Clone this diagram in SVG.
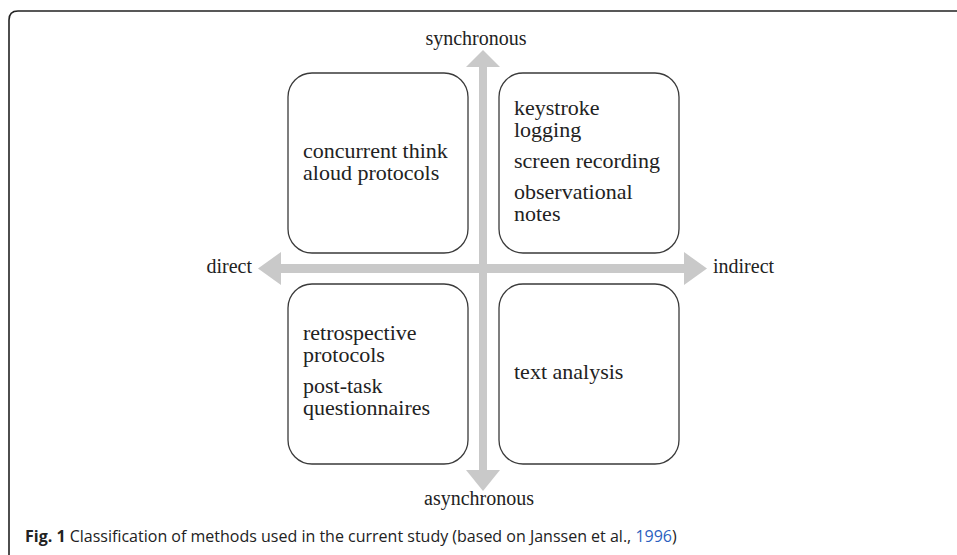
<svg xmlns="http://www.w3.org/2000/svg" width="957" height="555" viewBox="0 0 957 555">
<style>
.box{fill:#fff;stroke:#3a3a3a;stroke-width:1.3}
.t{font-family:"Liberation Serif","Times New Roman",serif;font-size:22px;fill:#222}
.lab{font-family:"Liberation Serif","Times New Roman",serif;font-size:20px;fill:#222}
.axis{fill:#c9c9c9}
.cap{font-family:"Open Sans","Liberation Sans",sans-serif;font-size:16px;fill:#222}
</style>
<rect width="957" height="555" fill="#fff"/>
<path d="M9,555 V20 Q9,11 18,11 H957" fill="none" stroke="#222" stroke-width="1.6"/>
<g id="connectors">
<rect class="axis" x="280" y="264" width="405" height="9"/>
<polygon class="axis" points="258,268.5 281,252 281,285"/>
<polygon class="axis" points="707,268.5 684,252 684,285"/>
<rect class="axis" x="479" y="66" width="8" height="405"/>
<polygon class="axis" points="483,50 466,67 500,67"/>
<polygon class="axis" points="483,491 466,470 500,470"/>
</g>
<g id="label-synchronous"><text class="lab" x="476" y="45" text-anchor="middle">synchronous</text></g>
<g id="label-asynchronous"><text class="lab" x="479" y="505" text-anchor="middle">asynchronous</text></g>
<g id="label-direct"><text class="lab" x="252" y="273" text-anchor="end">direct</text></g>
<g id="label-indirect"><text class="lab" x="713" y="273">indirect</text></g>
<g id="node-tl">
<rect class="box" x="288" y="73" width="180" height="180" rx="24"/>
<text class="t" x="303" y="158">concurrent think</text>
<text class="t" x="303" y="180">aloud protocols</text>
</g>
<g id="node-tr">
<rect class="box" x="499" y="73" width="180" height="180" rx="24"/>
<text class="t" x="514" y="115">keystroke</text>
<text class="t" x="514" y="137">logging</text>
<text class="t" x="514" y="168">screen recording</text>
<text class="t" x="514" y="199">observational</text>
<text class="t" x="514" y="221">notes</text>
</g>
<g id="node-bl">
<rect class="box" x="288" y="284" width="180" height="180" rx="24"/>
<text class="t" x="303" y="340">retrospective</text>
<text class="t" x="303" y="362">protocols</text>
<text class="t" x="303" y="393">post-task</text>
<text class="t" x="303" y="415">questionnaires</text>
</g>
<g id="node-br">
<rect class="box" x="499" y="284" width="180" height="180" rx="24"/>
<text class="t" x="514" y="379">text analysis</text>
</g>
<g id="caption"><text class="cap" x="25" y="542"><tspan font-weight="bold">Fig. 1</tspan> Classification of methods used in the current study (based on Janssen et al., <tspan fill="#2b5fc0">1996</tspan>)</text></g>
</svg>
